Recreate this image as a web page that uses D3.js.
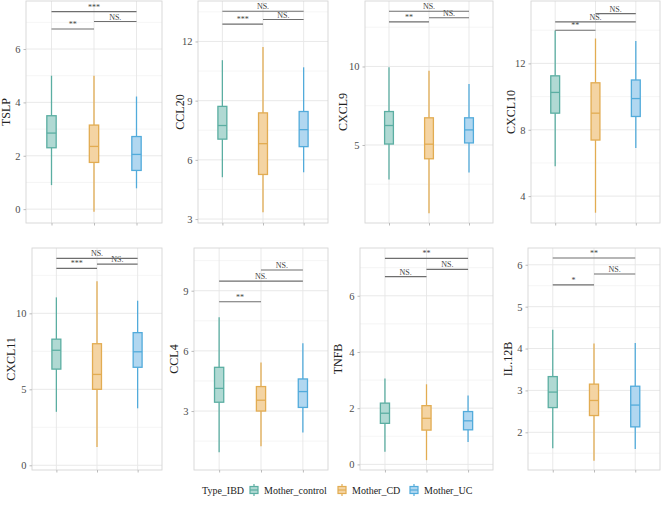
<!DOCTYPE html>
<html><head><meta charset="utf-8">
<script src="https://cdn.jsdelivr.net/npm/d3@7"></script>
<style>
body{margin:0;background:#fff}
svg{display:block}
svg text{font-family:"Liberation Serif","DejaVu Serif",serif !important}
</style>
</head><body><svg id="c" width="662" height="507"></svg>
<script>
// ---- data ----
const genes = ["TSLP","CCL20","CXCL9","CXCL10","CXCL11","CCL4","TNFB","IL.12B"];
const groups = ["Mother_control","Mother_CD","Mother_UC"];
// per gene: [control, CD, UC]
const whiskerLow  = [[0.9,-0.1,0.78],[5.12,3.35,5.37],[2.8,0.65,3.25],[5.8,3.0,6.9],[3.52,1.2,3.75],[0.95,1.25,1.93],[0.45,0.15,0.8],[1.62,1.32,1.6]];
const q1          = [[2.3,1.75,1.45],[7.05,5.26,6.67],[5.06,4.12,5.13],[9.0,7.38,8.8],[6.33,5.0,6.45],[3.44,3.0,3.18],[1.46,1.22,1.23],[2.59,2.4,2.13]];
const medians     = [[2.85,2.35,2.05],[7.74,6.82,7.53],[6.24,5.05,5.96],[10.25,9.0,9.88],[7.57,5.98,7.47],[4.13,3.54,3.97],[1.82,1.64,1.55],[2.96,2.76,2.65]];
const q3          = [[3.5,3.15,2.72],[8.71,8.38,8.45],[7.13,6.73,6.73],[11.25,10.83,11.0],[8.3,8.0,8.73],[5.18,4.22,4.6],[2.18,2.09,1.88],[3.33,3.15,3.1]];
const whiskerHigh = [[5.0,5.0,4.22],[11.05,11.72,10.69],[9.95,9.73,8.88],[13.98,13.5,13.35],[11.05,12.12,10.83],[7.68,5.42,6.38],[3.06,2.85,2.45],[4.45,4.12,4.13]];
const yTicks = [[0,2,4,6],[3,6,9,12],[5,10],[4,8,12],[0,5,10],[3,6,9],[0,2,4,6],[2,3,4,5,6]];
const yDomains = [[-0.52,7.8],[2.8,14.05],[0.03,14.17],[2.38,15.76],[-0.31,14.3],[0.06,11.13],[-0.2,7.7],[1.1,6.4]];
// comparisons: [groupIndexA, groupIndexB, y value of bracket, label]
const comparisons = [
  [[0,1,6.75,"**"],[1,2,7.03,"NS."],[0,2,7.4,"***"]],
  [[0,1,12.88,"***"],[1,2,13.11,"NS."],[0,2,13.53,"NS."]],
  [[0,1,12.84,"**"],[1,2,13.1,"NS."],[0,2,13.52,"NS."]],
  [[0,1,14.0,"**"],[0,2,14.5,"NS."],[1,2,15.0,"NS."]],
  [[0,1,12.96,"***"],[1,2,13.24,"NS."],[0,2,13.62,"NS."]],
  [[0,1,8.45,"**"],[0,2,9.48,"NS."],[1,2,10.03,"NS."]],
  [[0,1,6.68,"NS."],[1,2,6.94,"NS."],[0,2,7.33,"**"]],
  [[0,1,5.52,"*"],[1,2,5.78,"NS."],[0,2,6.16,"**"]]
];
const legendTitle = "Type_IBD";

// ---- layout / style ----
const strokeCol = ["#5BAEA2","#E2AC52","#52ABDB"];
const fillCol   = ["#B0D9D3","#F4D4A3","#B1D7F0"];
const panelX = [[26,162],[198,328],[365,493],[531,660],[32,162],[194,328],[360,493],[528,660]];
const titleX = [6,180,343,511,11,174,338,508];
const rowY = [[1,223],[248,470]];
const font = "Liberation Serif, DejaVu Serif, serif";

const svg = d3.select("#c");

genes.forEach((g, i) => {
  const row = i < 4 ? 0 : 1;
  const [x0, x1] = panelX[i];
  const [y0, y1] = rowY[row];
  const x = d3.scalePoint().domain(groups).range([x0, x1]).padding(0.6);
  const y = d3.scaleLinear().domain(yDomains[i]).range([y1, y0]);
  const gp = svg.append("g");
  const clipId = "clip" + i;
  gp.append("clipPath").attr("id", clipId).append("rect")
    .attr("x", x0).attr("y", y0).attr("width", x1 - x0).attr("height", y1 - y0);
  const inner = gp.append("g").attr("clip-path", `url(#${clipId})`);

  // gridlines
  const t = yTicks[i];
  const step = t.length > 1 ? t[1] - t[0] : 5;
  const minors = [];
  for (let v = t[0] - step / 2; v <= yDomains[i][1] + step; v += step) minors.push(v);
  inner.selectAll(".mn").data(minors).join("line")
    .attr("x1", x0).attr("x2", x1).attr("y1", d => y(d)).attr("y2", d => y(d))
    .attr("stroke", "#efefef").attr("stroke-width", 0.6);
  inner.selectAll(".mj").data(t).join("line")
    .attr("x1", x0).attr("x2", x1).attr("y1", d => y(d)).attr("y2", d => y(d))
    .attr("stroke", "#e6e6e6").attr("stroke-width", 0.9);
  inner.selectAll(".vx").data(groups).join("line")
    .attr("x1", d => x(d)).attr("x2", d => x(d)).attr("y1", y0).attr("y2", y1)
    .attr("stroke", "#e6e6e6").attr("stroke-width", 0.9);

  // boxes
  const bw = x.step() * 0.22;
  groups.forEach((grp, k) => {
    const cx = x(grp);
    inner.append("line").attr("x1", cx).attr("x2", cx)
      .attr("y1", y(whiskerLow[i][k])).attr("y2", y(q1[i][k]))
      .attr("stroke", strokeCol[k]).attr("stroke-width", 1.3);
    inner.append("line").attr("x1", cx).attr("x2", cx)
      .attr("y1", y(q3[i][k])).attr("y2", y(whiskerHigh[i][k]))
      .attr("stroke", strokeCol[k]).attr("stroke-width", 1.3);
    inner.append("rect").attr("x", cx - bw / 2).attr("width", bw)
      .attr("y", y(q3[i][k])).attr("height", y(q1[i][k]) - y(q3[i][k]))
      .attr("fill", fillCol[k]).attr("stroke", strokeCol[k]).attr("stroke-width", 1.3);
    inner.append("line").attr("x1", cx - bw / 2).attr("x2", cx + bw / 2)
      .attr("y1", y(medians[i][k])).attr("y2", y(medians[i][k]))
      .attr("stroke", strokeCol[k]).attr("stroke-width", 1.3);
  });

  // brackets
  comparisons[i].forEach(([a, b, v, lab]) => {
    const xa = x(groups[a]), xb = x(groups[b]);
    inner.append("line").attr("x1", xa).attr("x2", xb).attr("y1", y(v)).attr("y2", y(v))
      .attr("stroke", "#6e6e6e").attr("stroke-width", 1.1);
    inner.append("text").attr("x", (xa + xb) / 2).attr("y", y(v) - 2)
      .attr("text-anchor", "middle").style("font-family", font).style("font-size", "8px")
      .attr("fill", "#444").text(lab);
  });

  // panel border
  gp.append("rect").attr("x", x0).attr("y", y0).attr("width", x1 - x0).attr("height", y1 - y0)
    .attr("fill", "none").attr("stroke", "#d6d6d6").attr("stroke-width", 0.9);

  // y axis
  const ya = gp.append("g").attr("transform", `translate(${x0},0)`)
    .call(d3.axisLeft(y).tickValues(t).tickSize(2.5).tickPadding(3).tickFormat(d3.format("d")));
  ya.attr("font-family", null).attr("font-size", null);
  ya.select(".domain").remove();
  ya.selectAll(".tick line").attr("stroke", "#bbb");
  ya.selectAll("text").style("font-family", font).style("font-size", "10.5px").attr("fill", "#4d4d4d");

  // x axis ticks (no labels)
  const xa = gp.append("g").attr("transform", `translate(0,${y1})`)
    .call(d3.axisBottom(x).tickSize(2.5).tickFormat(""));
  xa.select(".domain").remove();
  xa.selectAll(".tick line").attr("stroke", "#bbb");

  // y title
  gp.append("text").attr("transform", `translate(${titleX[i]},${(y0 + y1) / 2}) rotate(-90)`)
    .attr("text-anchor", "middle").attr("dominant-baseline", "central")
    .style("font-family", font).style("font-size", "12px").attr("fill", "#222").text(g);
});

// legend
const lg = svg.append("g").attr("transform", "translate(0,490)");
lg.append("text").attr("x", 202).attr("y", 0).attr("dominant-baseline", "central")
  .style("font-family", font).style("font-size", "10px").attr("fill", "#222").text(legendTitle);
const keyX = [249, 337, 409];
groups.forEach((grp, k) => {
  const kx = keyX[k];
  const kg = lg.append("g").attr("transform", `translate(${kx},0)`);
  kg.append("line").attr("x1", 5).attr("x2", 5).attr("y1", -6).attr("y2", 6)
    .attr("stroke", strokeCol[k]).attr("stroke-width", 1.2);
  kg.append("rect").attr("x", 1).attr("y", -3.5).attr("width", 8).attr("height", 7)
    .attr("fill", fillCol[k]).attr("stroke", strokeCol[k]).attr("stroke-width", 1.2);
  kg.append("line").attr("x1", 1).attr("x2", 9).attr("y1", 0).attr("y2", 0)
    .attr("stroke", strokeCol[k]).attr("stroke-width", 1.2);
  lg.append("text").attr("x", kx + 15).attr("y", 0).attr("dominant-baseline", "central")
    .style("font-family", font).style("font-size", "10px").attr("fill", "#222").text(grp);
});
</script></body></html>
